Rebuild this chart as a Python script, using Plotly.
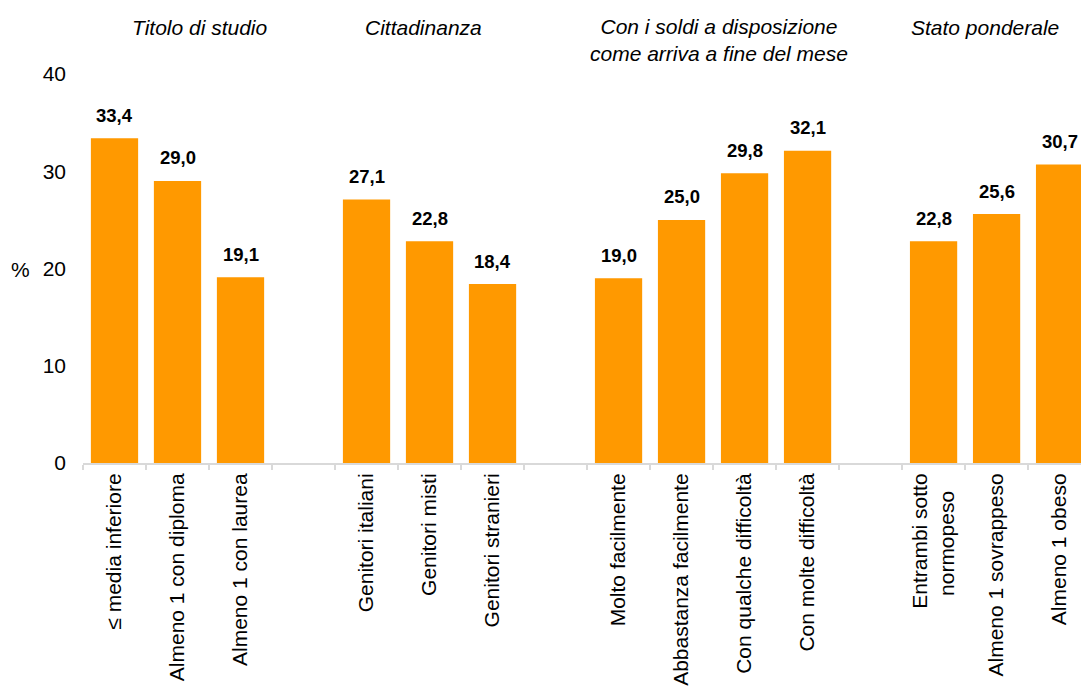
import plotly.graph_objects as go

# Categories grouped by theme; blank slots separate the groups
categories = [
    "≤ media inferiore", "Almeno 1 con diploma", "Almeno 1 con laurea", " ",
    "Genitori italiani", "Genitori misti", "Genitori stranieri", "  ",
    "Molto facilmente", "Abbastanza facilmente", "Con qualche difficoltà", "Con molte difficoltà", "   ",
    "Entrambi sotto<br>normopeso&nbsp;&nbsp;&nbsp;", "Almeno 1 sovrappeso", "Almeno 1 obeso",
]
values = [
    33.4, 29.0, 19.1, None,
    27.1, 22.8, 18.4, None,
    19.0, 25.0, 29.8, 32.1, None,
    22.8, 25.6, 30.7,
]
group_titles = [
    "Titolo di studio",
    "Cittadinanza",
    "Con i soldi a disposizione<br>come arriva a fine del mese",
    "Stato ponderale",
]
y_ticks = [0, 10, 20, 30, 40]

FONT = "Arial, Liberation Sans, sans-serif"
BAR = "#ff9900"

W, H = 1081, 686
ML, MT, MB = 83, 74, 220
PW, PH = W - ML, H - MT - MB


def px_to_paper(px, py):
    """Convert figure pixel position to plot-area paper coordinates."""
    return (px - ML) / PW, (H - MB - py) / PH


fig = go.Figure(
    go.Bar(
        x=categories,
        y=values,
        marker=dict(color=BAR, line=dict(width=0)),
        hoverinfo="x+y",
    )
)

# Value labels above each bar, Italian decimal comma
for cat, v in zip(categories, values):
    if v is None:
        continue
    fig.add_annotation(
        x=cat, y=v, xref="x", yref="y",
        text=f"<b>{v:.1f}</b>".replace(".", ","),
        showarrow=False, yanchor="middle", yshift=23,
        font=dict(family=FONT, size=18.5, color="#000"),
    )

# Group headings above the plot
title_pos = [(200, 27), (423, 27), (719, 40), (985, 27)]
for txt, (px, py) in zip(group_titles, title_pos):
    xp, yp = px_to_paper(px, py)
    fig.add_annotation(
        x=xp, y=yp, xref="paper", yref="paper",
        text=f"<i>{txt}</i>", showarrow=False,
        xanchor="center", yanchor="middle",
        font=dict(family=FONT, size=21, color="#000"),
    )

# Y axis unit
xp, yp = px_to_paper(20, 271)
fig.add_annotation(
    x=xp, y=yp, xref="paper", yref="paper",
    text="%", showarrow=False, xanchor="center", yanchor="middle",
    font=dict(family=FONT, size=21, color="#000"),
)

fig.update_layout(
    width=W, height=H,
    margin=dict(l=ML, r=0, t=MT, b=MB, pad=0),
    paper_bgcolor="white", plot_bgcolor="white",
    bargap=0.25,
    showlegend=False,
    font=dict(family=FONT, size=21, color="#000"),
)
fig.update_xaxes(
    type="category",
    categoryorder="array", categoryarray=categories,
    range=[-0.5, 15.34],
    tickangle=-90,
    tickson="boundaries",
    ticks="outside", ticklen=5, tickcolor="#d9d9d9", tickwidth=2,
    showline=True, linecolor="#d9d9d9", linewidth=2,
    showgrid=False, zeroline=False,
    tickfont=dict(family=FONT, size=21, color="#000"),
)
fig.update_yaxes(
    range=[0, 40], tickvals=y_ticks,
    showline=False, showgrid=False, zeroline=False,
    ticks="", ticklabelstandoff=16,
    tickfont=dict(family=FONT, size=21, color="#000"),
)

fig.write_html("out.html")
